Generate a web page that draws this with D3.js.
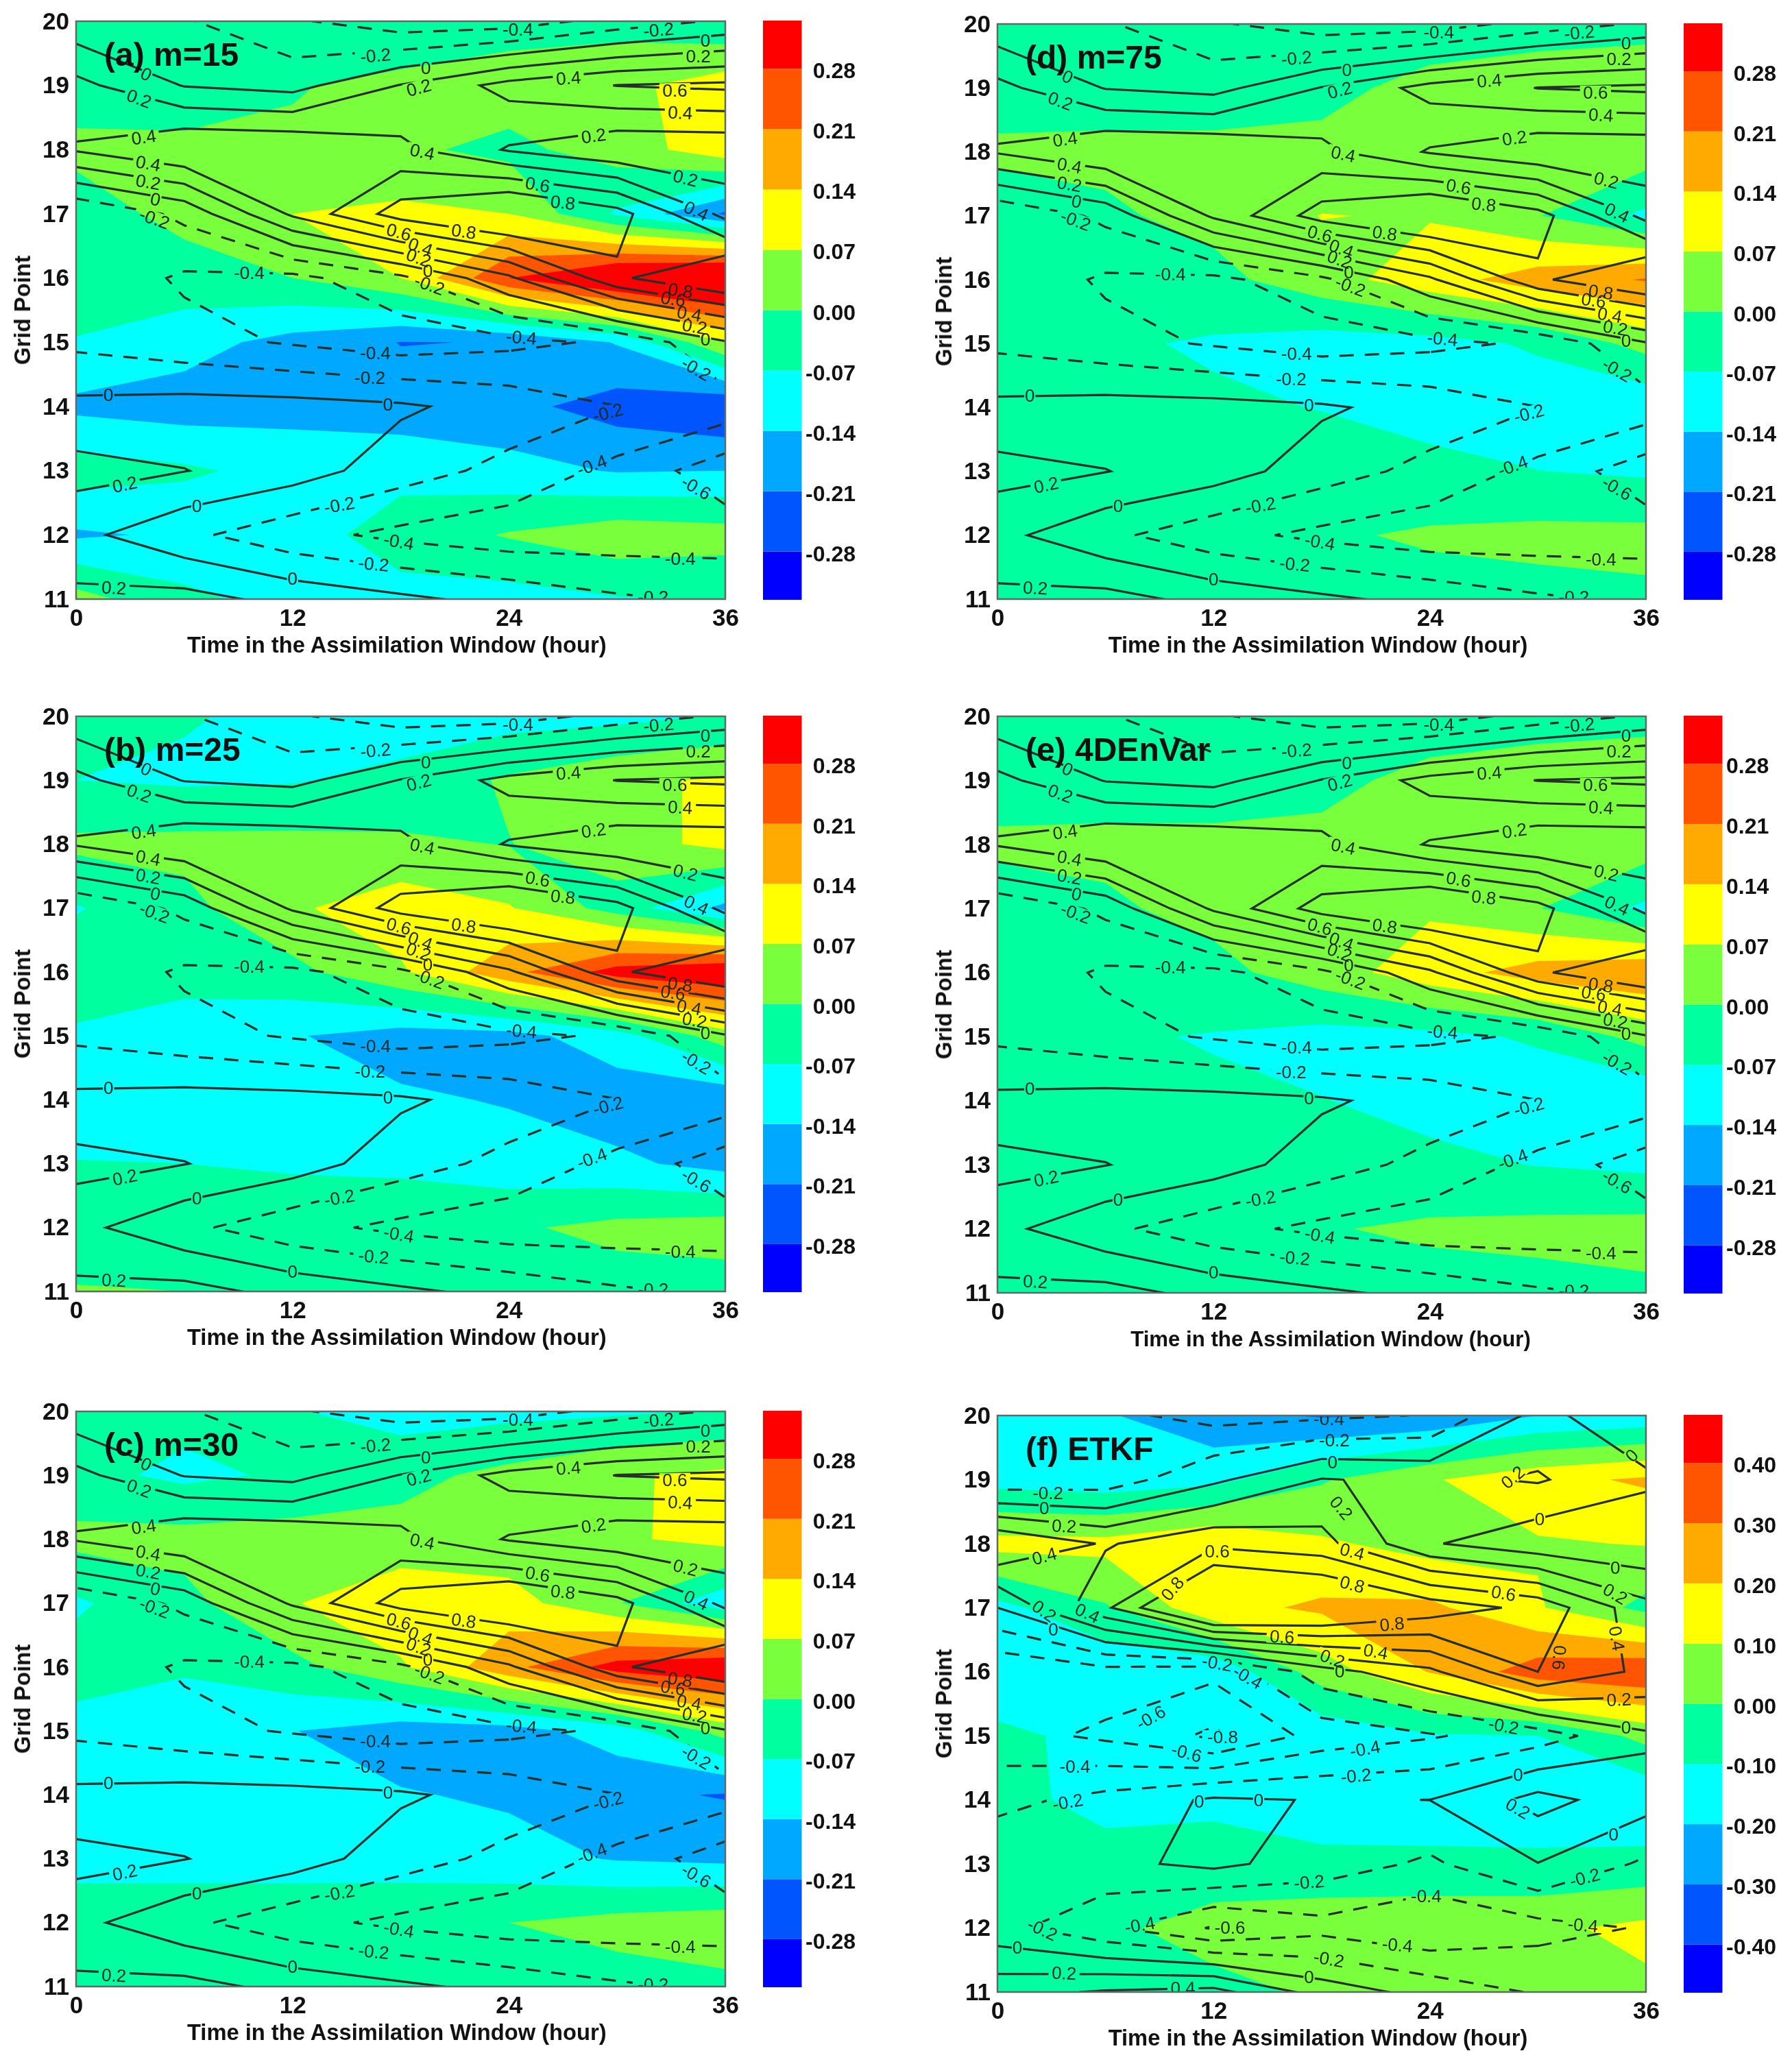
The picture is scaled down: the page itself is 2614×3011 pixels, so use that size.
<!DOCTYPE html>
<html>
<head>
<meta charset="utf-8">
<script src="https://cdn.jsdelivr.net/npm/d3@7"></script>
<style>
  html, body { margin: 0; background: #fff; }
  svg { display: block; filter: blur(0.6px); }
  text { font-family: "Liberation Sans", Arial, sans-serif; }
</style>
</head>
<body>
<div id="chart"></div>
<script>
const times = [0, 6, 12, 18, 24, 30, 36];
const timeTicks = [0, 12, 24, 36];
const gridPoints = [20, 19, 18, 17, 16, 15, 14, 13, 12, 11];

const colors = ['#0000ff', '#0055ff', '#00a8ff', '#00ffff', '#00ff9f', '#7aff3c', '#ffff00', '#ffaa00', '#ff5500', '#ff0000'];
const levels = [-0.28, -0.21, -0.14, -0.07, 0, 0.07, 0.14, 0.21, 0.28];
const levelsF = [-0.4, -0.3, -0.2, -0.1, 0, 0.1, 0.2, 0.3, 0.4];
const lineLevels = [-0.8, -0.6, -0.4, -0.2, 0, 0.2, 0.4, 0.6, 0.8];

// shaded values, one row per grid point from 20 down to 11
const fillA = [
  [-.03, -.03, -.03, -.06, -.03, -.024, -.06],
  [-.03, -.05, -.005, .02, .035, .05, .107],
  [.015, .021, .012, .012, -.017, .03, .115],
  [-.03, .02, .07, .086, .07, -.08, -.22],
  [-.04, -.03, 0, .07, .28, .39, .44],
  [-.073, -.112, -.165, -.212, -.208, -.135, .07],
  [-.157, -.174, -.165, -.18, -.19, -.24, -.275],
  [-.035, -.058, -.095, -.089, -.115, -.145, -.14],
  [-.15, -.13, -.1, -.04, .006, .045, .03],
  [.028, -.052, -.1, -.092, -.098, -.075, -.065]
];
const fillB = [
  [-.05, -.065, -.085, -.11, -.10, -.09, -.065],
  [-.07, -.08, -.075, -.05, .01, .055, .08],
  [.015, .02, .02, .012, -.002, .04, .09],
  [-.075, -.02, .06, .11, .075, -.03, -.16],
  [-.03, -.03, -.02, .06, .19, .31, .35],
  [-.08, -.125, -.135, -.17, -.165, -.10, .04],
  [-.10, -.105, -.11, -.13, -.145, -.18, -.195],
  [-.068, -.07, -.078, -.085, -.11, -.125, -.165],
  [-.04, -.03, -.03, -.02, -.01, .02, .035],
  [.005, 0, -.01, -.04, -.045, -.035, -.035]
];
const fillC = [
  [-.04, -.05, -.065, -.10, -.09, -.08, -.065],
  [-.05, -.085, -.06, -.02, .02, .062, .085],
  [.02, .025, .03, .025, .025, .058, .095],
  [-.08, -.02, .065, .125, .10, .005, -.12],
  [-.04, -.06, -.02, .06, .19, .31, .35],
  [-.095, -.12, -.138, -.175, -.17, -.105, .03],
  [-.10, -.105, -.11, -.135, -.15, -.195, -.215],
  [-.095, -.095, -.095, -.10, -.115, -.145, -.155],
  [-.03, -.03, -.03, -.02, 0, .025, .04],
  [-.02, -.025, -.03, -.04, -.045, -.03, -.015]
];
const fillD = [
  [-.03, -.03, -.03, -.03, -.03, -.03, -.03],
  [-.03, -.03, -.03, -.015, .017, .04, .064],
  [.012, .015, .015, .015, .025, .03, .035],
  [-.035, -.01, .02, .072, .065, .003, -.085],
  [-.03, -.03, -.02, .04, .11, .175, .215],
  [-.05, -.06, -.078, -.10, -.095, -.06, .025],
  [-.05, -.055, -.06, -.072, -.09, -.11, -.125],
  [-.03, -.03, -.035, -.04, -.055, -.069, -.08],
  [-.02, -.02, -.02, -.01, .01, .02, .02],
  [-.02, -.025, -.03, -.03, -.03, -.024, -.012]
];
const fillE = [
  [-.03, -.03, -.03, -.03, -.03, -.03, -.03],
  [-.03, -.03, -.03, -.015, .017, .04, .064],
  [.012, .015, .015, .015, .025, .03, .035],
  [-.03, -.01, .02, .06, .06, .003, -.085],
  [-.03, -.03, -.02, .035, .11, .17, .20],
  [-.05, -.062, -.074, -.095, -.09, -.06, .025],
  [-.05, -.055, -.06, -.068, -.09, -.115, -.13],
  [-.03, -.03, -.035, -.04, -.055, -.072, -.085],
  [-.02, -.02, -.02, -.005, .012, .02, .025],
  [-.02, -.025, -.03, -.03, -.03, -.024, -.012]
];
const fillF = [
  [-.10, -.19, -.27, -.31, -.29, -.20, -.17],
  [-.14, -.16, -.13, -.01, .09, .17, .215],
  [.135, .13, .19, .115, .063, .09, .105],
  [-.13, -.01, .17, .216, .22, .11, -.03],
  [-.14, -.18, -.18, .05, .205, .354, .39],
  [-.088, -.115, -.2, -.17, -.11, -.10, .03],
  [-.06, -.14, -.12, -.16, -.15, -.16, -.18],
  [-.05, -.05, -.06, -.074, -.08, -.08, -.069],
  [-.03, -.02, .04, .066, .08, .08, .125],
  [-.01, -.02, -.029, .015, .03, .03, .08]
];

// line-contour values
const linesAE = [
  [-.14, -.18, -.37, -.53, -.51, -.32, -.17],
  [.26, -.01, -.07, .21, .47, .605, .64],
  [.42, .6, .585, .45, .18, .03, .04],
  [-.395, -.15, .436, .9, 1.12, .88, .34],
  [-.25, -.43, -.46, -.25, .16, .76, 1.05],
  [-.245, -.33, -.42, -.51, -.45, -.37, -.02],
  [.05, .08, .07, .03, -.08, -.198, -.285],
  [.267, .205, .1, -.11, -.26, -.46, -.717],
  [.0575, -.15, -.335, -.45, -.52, -.51, -.496],
  [.247, .27, .14, .04, -.06, -.17, -.236]
];
const linesF = [
  [-.25, -.35, -.47, -.44, -.39, .07, -.18],
  [-.35, -.31, -.04, .21, .16, .22, .04],
  [.6, .38, .55, .47, .02, -.14, -.17],
  [0, .56, 1.3, 1.15, .92, .74, .26],
  [-.58, -.48, -.55, -.09, .155, .6, .35],
  [-.52, -.64, -.84, -.52, -.42, -.3, -.03],
  [-.264, -.13, .03, -.01, .001, .27, .08],
  [-.02, -.05, .05, -.1, -.235, -.005, -.235],
  [-.13, -.37, -.62, -.47, -.58, -.47, -.385],
  [.33, .42, .47, .115, -.07, -.22, -.3]
];

// contour labels: time, grid point, text, angle
const labelsAE = [
  [3.9, 19.18, '0', 25], [3.5, 18.8, '0.2', 20], [3.75, 18.2, '0.4', -8], [4, 17.79, '0.4', 10],
  [4, 17.5, '0.2', 10], [4.4, 17.23, '0', 12], [4.35, 16.93, '-0.2', 20], [9.6, 16.09, '-0.4', 0],
  [19.4, 19.28, '0', 0], [19, 18.97, '0.2', -15], [27.3, 19.12, '0.4', -4], [33.2, 18.93, '0.6', 0],
  [33.5, 18.58, '0.4', 3], [28.7, 18.22, '0.2', -8], [19.2, 17.97, '0.4', 12], [33.8, 17.56, '0.2', 14],
  [25.6, 17.46, '0.6', 10], [27, 17.18, '0.8', 6], [34.4, 17.05, '0.4', 25], [17.9, 16.72, '0.6', 15],
  [21.5, 16.73, '0.8', 8], [19.1, 16.49, '0.4', 20], [19, 16.32, '0.2', 20], [19.5, 16.12, '0', 0],
  [19.6, 15.9, '-0.2', 20], [24.7, 15.08, '-0.4', 5], [16.6, 14.84, '-0.4', 0], [16.3, 14.45, '-0.2', 0],
  [1.8, 14.19, '0', 0], [17.3, 14.04, '0', 0], [29.5, 13.91, '-0.2', -15], [28.6, 13.09, '-0.4', -20],
  [2.7, 12.79, '0.2', -12], [34.4, 12.74, '-0.6', 30], [14.6, 12.47, '-0.2', -10], [6.7, 12.46, '0', 0],
  [17.9, 11.9, '-0.4', 10], [33.5, 11.63, '-0.4', 0], [16.5, 11.55, '-0.2', 5], [12, 11.32, '0', 0],
  [2.1, 11.18, '0.2', 3], [32, 11.04, '-0.2', 0], [24.5, 19.88, '-0.4', 0], [32.3, 19.87, '-0.2', -5],
  [16.6, 19.47, '-0.2', -5], [34.9, 19.7, '0', 0], [34.5, 19.46, '0.2', 0], [33.1, 15.68, '0.6', 8],
  [33.5, 15.81, '0.8', 8], [34, 15.45, '0.4', 10], [34.3, 15.25, '0.2', 10], [34.9, 15.05, '0', 0],
  [34.4, 14.59, '-0.2', 30]
];
const labelsF = [
  [18.6, 19.28, '0', 0], [18.7, 19.62, '-0.2', 0], [18.4, 19.95, '-0.4', 0], [2.8, 18.79, '-0.2', 0],
  [2.6, 18.56, '0', 0], [3.7, 18.28, '0.2', 3], [2.6, 17.81, '0.4', -15], [19.1, 18.56, '0.2', 50],
  [28.6, 19.04, '0.2', -40], [35.2, 19.38, '0', -45], [30.1, 18.39, '0', 0], [12.2, 17.88, '0.6', 0],
  [19.7, 17.88, '0.4', 15], [34.3, 17.63, '0', 0], [9.7, 17.3, '0.8', -50], [19.7, 17.37, '0.8', 15],
  [28.1, 17.23, '0.6', 10], [34.3, 17.22, '0.2', 30], [5, 16.92, '0.4', 25], [2.6, 16.95, '0.2', 35],
  [3.1, 16.67, '0', 0], [21.9, 16.75, '0.8', -6], [15.8, 16.55, '0.6', 3], [21, 16.32, '0.4', 10],
  [31.2, 16.22, '0.6', 95], [34.4, 16.52, '0.4', 80], [18.6, 16.21, '0.2', 20], [19, 16.01, '0', 0],
  [12.2, 16.14, '-0.2', 10], [13.9, 15.92, '-0.4', 30], [34.5, 15.57, '0.2', -3], [34.9, 15.13, '0', 0],
  [28.1, 15.16, '-0.2', 10], [8.5, 15.29, '-0.6', -30], [12.5, 14.98, '-0.8', 0], [10.5, 14.74, '-0.6', 15],
  [20.4, 14.8, '-0.4', -10], [4.3, 14.53, '-0.4', 0], [19.9, 14.38, '-0.2', -5], [3.9, 13.97, '-0.2', -10],
  [11.2, 13.98, '0', 0], [14.5, 14, '0', 0], [28.9, 14.4, '0', 0], [28.9, 13.87, '0.2', 30],
  [34.2, 13.47, '0', 0], [17.3, 12.72, '-0.2', -5], [32.6, 12.79, '-0.2', -15], [23.8, 12.5, '-0.4', 0],
  [12.9, 12.01, '-0.6', 0], [2.5, 11.98, '-0.2', 25], [7.9, 12.05, '-0.4', -10], [32.5, 12.05, '-0.4', 5],
  [22.2, 11.74, '-0.4', 5], [1.1, 11.7, '0', 0], [18.4, 11.52, '-0.2', 10], [3.7, 11.3, '0.2', 3],
  [17.3, 11.24, '0', 0], [10.3, 11.07, '0.4', 0]
];

const panels = [
  { id: 'a', title: '(a) m=15', x0: 111, x1: 1058, y0: 31, y1: 874, barX: 1113, labelX: 1248, anchor: 'end', fill: fillA, lines: linesAE, labels: labelsAE, lev: levels, titleX: 578.8, titleSize: 32.7 },
  { id: 'b', title: '(b) m=25', x0: 111, x1: 1058, y0: 1045, y1: 1884, barX: 1113, labelX: 1248, anchor: 'end', fill: fillB, lines: linesAE, labels: labelsAE, lev: levels, titleX: 578.8, titleSize: 32.7 },
  { id: 'c', title: '(c) m=30', x0: 111, x1: 1058, y0: 2059, y1: 2898, barX: 1113, labelX: 1248, anchor: 'end', fill: fillC, lines: linesAE, labels: labelsAE, lev: levels, titleX: 578.8, titleSize: 32.7 },
  { id: 'd', title: '(d) m=75', x0: 1455, x1: 2401, y0: 35, y1: 874, barX: 2456, labelX: 2591, anchor: 'end', fill: fillD, lines: linesAE, labels: labelsAE, lev: levels, titleX: 1922.5, titleSize: 32.7 },
  { id: 'e', title: '(e) 4DEnVar', x0: 1455, x1: 2401, y0: 1045, y1: 1886, barX: 2456, labelX: 2518, anchor: 'start', fill: fillE, lines: linesAE, labels: labelsAE, lev: levels, titleX: 1941, titleSize: 31.2 },
  { id: 'f', title: '(f) ETKF', x0: 1455, x1: 2401, y0: 2065, y1: 2906, barX: 2456, labelX: 2591, anchor: 'end', fill: fillF, lines: linesF, labels: labelsF, lev: levelsF, titleX: 1922.5, titleSize: 32.7 }
];

const svg = d3.select('#chart').append('svg').attr('width', 2614).attr('height', 3011);
const contours = d3.contours().size([times.length, gridPoints.length]).smooth(true);

panels.forEach(p => {
  const x = d3.scaleLinear().domain([0, 36]).range([p.x0, p.x1]);
  const y = d3.scaleLinear().domain([11, 20]).range([p.y1, p.y0]);

  // d3.contours puts node (i, j) at (i + 0.5, j + 0.5), so turn that back into time / grid point
  const path = d3.geoPath(d3.geoTransform({
    point(cx, cy) {
      this.stream.point(x((cx - 0.5) * 6), y(20 - (cy - 0.5)));
    }
  }));

  const g = svg.append('g');

  g.append('clipPath').attr('id', 'clip-' + p.id)
    .append('rect')
    .attr('x', p.x0).attr('y', p.y0)
    .attr('width', p.x1 - p.x0).attr('height', p.y1 - p.y0);

  const plot = g.append('g').attr('clip-path', `url(#clip-${p.id})`);

  // shading
  plot.append('rect')
    .attr('x', p.x0).attr('y', p.y0)
    .attr('width', p.x1 - p.x0).attr('height', p.y1 - p.y0)
    .attr('fill', colors[0]);

  const fillValues = p.fill.flat();
  p.lev.forEach((lev, i) => {
    plot.append('path')
      .attr('d', path(contours.contour(fillValues, lev)))
      .attr('fill', colors[i + 1]);
  });

  // gaps in the lines under the labels
  const mask = g.append('mask').attr('id', 'gap-' + p.id)
    .attr('maskUnits', 'userSpaceOnUse')
    .attr('x', 0).attr('y', 0).attr('width', 2614).attr('height', 3011);
  mask.append('rect').attr('width', 2614).attr('height', 3011).attr('fill', '#fff');
  mask.selectAll('rect.gap')
    .data(p.labels)
    .enter()
    .append('rect')
    .attr('class', 'gap')
    .attr('x', d => -(d[2].length * 7.2 + 1))
    .attr('y', -10)
    .attr('width', d => 2 * (d[2].length * 7.2 + 1))
    .attr('height', 20)
    .attr('fill', '#000')
    .attr('transform', d => `translate(${x(d[0])},${y(d[1])}) rotate(${d[3]})`);

  const lineGroup = plot.append('g').attr('mask', `url(#gap-${p.id})`);
  const lineValues = p.lines.flat();
  lineLevels.forEach(lev => {
    lineGroup.append('path')
      .attr('d', path(contours.contour(lineValues, lev)))
      .attr('fill', 'none')
      .attr('stroke', '#26302a')
      .attr('stroke-width', 3.2)
      .attr('stroke-dasharray', lev < 0 ? '21 16' : null);
  });

  plot.selectAll('text.lab')
    .data(p.labels)
    .enter()
    .append('text')
    .attr('class', 'lab')
    .attr('text-anchor', 'middle')
    .attr('dy', '0.36em')
    .attr('font-size', 26)
    .attr('fill', '#1d2a24')
    .attr('transform', d => `translate(${x(d[0])},${y(d[1])}) rotate(${d[3]})`)
    .text(d => d[2]);

  // frame
  g.append('rect')
    .attr('x', p.x0).attr('y', p.y0)
    .attr('width', p.x1 - p.x0).attr('height', p.y1 - p.y0)
    .attr('fill', 'none')
    .attr('stroke', '#5f6b66')
    .attr('stroke-width', 2.5);

  // axes
  const axisB = d3.axisBottom(x).tickValues(timeTicks).tickSize(0).tickPadding(14).tickFormat(d3.format('d'));
  const axisL = d3.axisLeft(y).tickValues(gridPoints).tickSize(0).tickPadding(10).tickFormat(d3.format('d'));
  const bottom = g.append('g').attr('transform', `translate(0,${p.y1})`).call(axisB);
  const left = g.append('g').attr('transform', `translate(${p.x0},0)`).call(axisL);
  [bottom, left].forEach(a => {
    a.select('.domain').remove();
    a.selectAll('text')
      .attr('font-family', '"Liberation Sans", Arial, sans-serif')
      .attr('font-size', 35)
      .attr('font-weight', 'bold')
      .attr('fill', '#111');
  });

  g.append('text')
    .attr('x', p.titleX).attr('y', p.y1 + 78)
    .attr('text-anchor', 'middle')
    .attr('font-size', p.titleSize)
    .attr('font-weight', 'bold')
    .attr('fill', '#111')
    .text('Time in the Assimilation Window (hour)');

  g.append('text')
    .attr('transform', `translate(${p.x0 - 67},${(p.y0 + p.y1) / 2}) rotate(-90)`)
    .attr('text-anchor', 'middle')
    .attr('font-size', 33)
    .attr('font-weight', 'bold')
    .attr('fill', '#111')
    .text('Grid Point');

  g.append('text')
    .attr('x', p.x0 + 41).attr('y', p.y0 + 65)
    .attr('font-size', 48)
    .attr('font-weight', 'bold')
    .attr('fill', '#111')
    .text(p.title);

  // colour bar
  const step = p.lev[1] - p.lev[0];
  const edges = [p.lev[0] - 0.8 * step, ...p.lev, p.lev[p.lev.length - 1] + 0.8 * step];
  const barY = d3.scaleLinear().domain([edges[0], edges[edges.length - 1]]).range([p.y1 + 1, p.y0 - 1]);
  const bands = d3.pairs(edges);

  g.selectAll('rect.band')
    .data(bands)
    .enter()
    .append('rect')
    .attr('class', 'band')
    .attr('x', p.barX)
    .attr('y', d => barY(d[1]))
    .attr('width', 56.5)
    .attr('height', d => barY(d[0]) - barY(d[1]))
    .attr('fill', (d, i) => colors[i]);

  g.selectAll('text.barlab')
    .data(p.lev)
    .enter()
    .append('text')
    .attr('class', 'barlab')
    .attr('x', p.labelX)
    .attr('y', d => barY(d) + 14)
    .attr('text-anchor', p.anchor)
    .attr('font-size', 32)
    .attr('font-weight', 'bold')
    .attr('fill', '#111')
    .text(d => d.toFixed(2));
});
</script>
</body>
</html>
